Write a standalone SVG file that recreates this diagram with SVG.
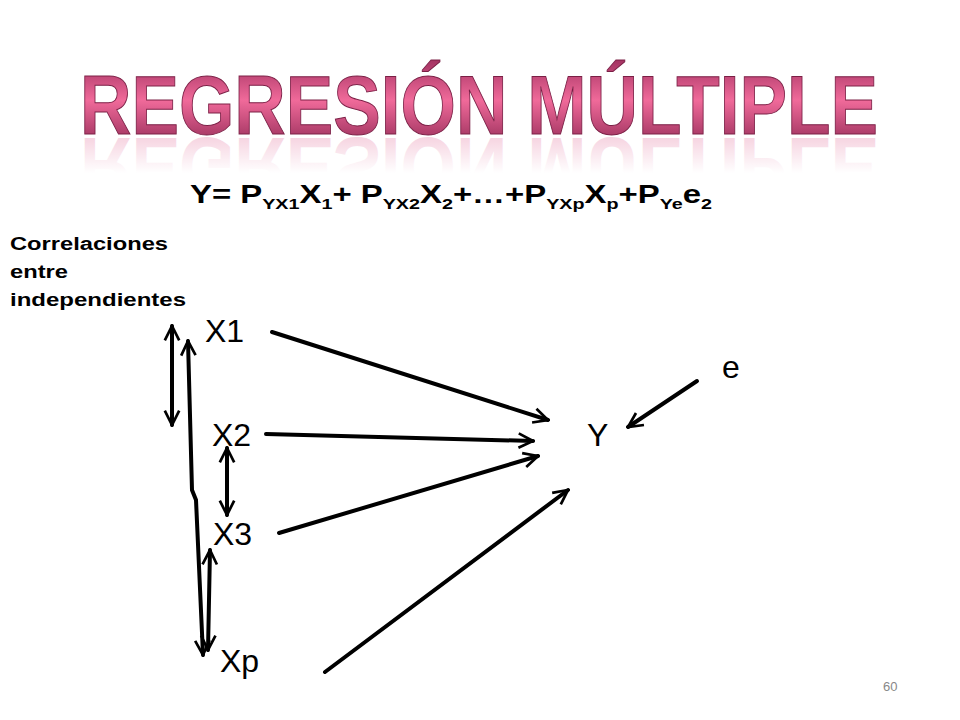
<svg xmlns="http://www.w3.org/2000/svg" width="960" height="720" viewBox="0 0 960 720">
<defs>
<linearGradient id="pg" x1="0" y1="0" x2="0" y2="1">
<stop offset="0" stop-color="#a0305f"/><stop offset="0.45" stop-color="#f06a9a"/><stop offset="1" stop-color="#8a2550"/>
</linearGradient>
<linearGradient id="rg" x1="0" y1="0" x2="0" y2="1">
<stop offset="0" stop-color="#ffffff" stop-opacity="0.2"/><stop offset="1" stop-color="#ffffff" stop-opacity="1"/>
</linearGradient>
<clipPath id="rc"><rect x="0" y="137" width="960" height="36"/></clipPath>
<marker id="ah" viewBox="0 0 20 20" refX="18" refY="10" markerWidth="18" markerHeight="18" markerUnits="userSpaceOnUse" orient="auto-start-reverse">
<polyline points="2,2 18,10 2,18" fill="none" stroke="#000" stroke-width="3"/>
</marker>
<style>
.t{font-family:"Liberation Sans",Arial,sans-serif;fill:#000}
.n{font-size:32px}
.c{stroke:#000;stroke-width:4;fill:none;stroke-linecap:round}
</style>
</defs>
<rect width="960" height="720" fill="#fff"/>
<g id="title">
<text x="80" y="134" textLength="798" lengthAdjust="spacingAndGlyphs" font-family="Liberation Sans,Arial,sans-serif" font-weight="bold" font-size="84" fill="url(#pg)" stroke="#7a1f45" stroke-width="1">REGRESIÓN MÚLTIPLE</text>
<g clip-path="url(#rc)">
<g transform="translate(0,272) scale(1,-1)"><text x="80" y="134" textLength="798" lengthAdjust="spacingAndGlyphs" font-family="Liberation Sans,Arial,sans-serif" font-weight="bold" font-size="84" fill="#e88aad" opacity="0.45">REGRESIÓN MÚLTIPLE</text></g>
<rect x="70" y="137" width="820" height="36" fill="url(#rg)"/>
</g>
</g>
<g id="equation">
<text class="t" x="190" y="203" font-size="25" font-weight="bold" textLength="522" lengthAdjust="spacingAndGlyphs">Y= P<tspan font-size="15" dy="6">YX1</tspan><tspan dy="-6">X</tspan><tspan font-size="15" dy="6">1</tspan><tspan dy="-6">+ P</tspan><tspan font-size="15" dy="6">YX2</tspan><tspan dy="-6">X</tspan><tspan font-size="15" dy="6">2</tspan><tspan dy="-6">+…+P</tspan><tspan font-size="15" dy="6">YXp</tspan><tspan dy="-6">X</tspan><tspan font-size="15" dy="6">p</tspan><tspan dy="-6">+P</tspan><tspan font-size="15" dy="6">Ye</tspan><tspan dy="-6">e</tspan><tspan font-size="15" dy="6">2</tspan></text>
</g>
<g id="note">
<text class="t" x="10" y="250" font-size="18" font-weight="bold" textLength="158" lengthAdjust="spacingAndGlyphs">Correlaciones</text>
<text class="t" x="10" y="278" font-size="18" font-weight="bold" textLength="58" lengthAdjust="spacingAndGlyphs">entre</text>
<text class="t" x="10" y="306" font-size="18" font-weight="bold" textLength="176" lengthAdjust="spacingAndGlyphs">independientes</text>
</g>
<g id="X1"><text class="t n" x="205" y="342">X1</text></g>
<g id="X2"><text class="t n" x="212" y="446">X2</text></g>
<g id="X3"><text class="t n" x="213" y="545">X3</text></g>
<g id="Xp"><text class="t n" x="220" y="672">Xp</text></g>
<g id="Y"><text class="t n" x="587" y="446">Y</text></g>
<g id="e"><text class="t n" x="722" y="378">e</text></g>
<g id="page"><text x="883" y="691" font-family="Liberation Sans,Arial,sans-serif" font-size="13" fill="#888">60</text></g>
<g id="connectors">
<line class="c" x1="272" y1="332" x2="548" y2="420" marker-end="url(#ah)"/>
<line class="c" x1="266" y1="434" x2="533" y2="441" marker-end="url(#ah)"/>
<line class="c" x1="279" y1="533" x2="538" y2="456" marker-end="url(#ah)"/>
<line class="c" x1="325" y1="672" x2="568" y2="490" marker-end="url(#ah)"/>
<line class="c" x1="697" y1="381" x2="628" y2="427" marker-end="url(#ah)"/>
<line class="c" x1="172" y1="326" x2="172" y2="425" marker-start="url(#ah)" marker-end="url(#ah)"/>
<path class="c" d="M188,341 L192,490 L196,500 L203,655" marker-start="url(#ah)" marker-end="url(#ah)"/>
<line class="c" x1="227" y1="448" x2="227" y2="515" marker-start="url(#ah)" marker-end="url(#ah)"/>
<line class="c" x1="210" y1="550" x2="208" y2="650" marker-start="url(#ah)" marker-end="url(#ah)"/>
</g>
</svg>
